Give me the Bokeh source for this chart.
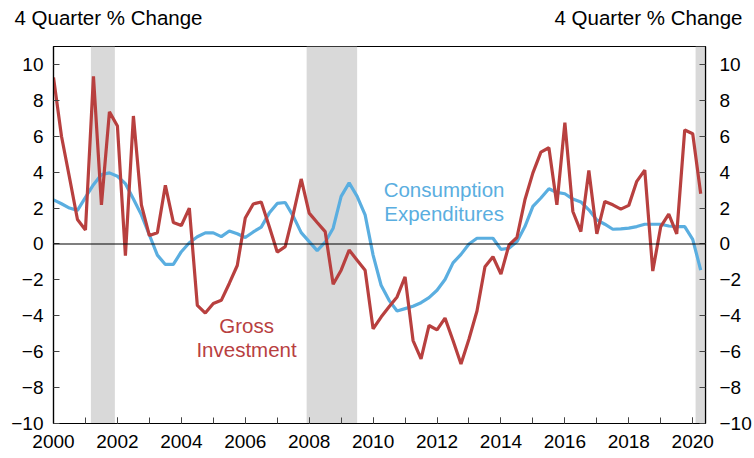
from bokeh.plotting import figure
from bokeh.layouts import column, row
from bokeh.models import Range1d, LinearAxis, FixedTicker, BoxAnnotation, Label, Span
from bokeh.core.properties import value
from bokeh.embed import file_html
from bokeh.resources import INLINE

# ---- data -----------------------------------------------------------------
start_year = 2000  # first quarter plotted at 2000.0, quarterly steps

consumption = [
    2.46, 2.24, 2.00, 1.87, 2.60,
    3.30, 3.87, 3.96, 3.77,
    3.36, 2.50, 1.62, 0.50,
    -0.62, -1.14, -1.14, -0.43,
    0.07, 0.40, 0.62, 0.62,
    0.41, 0.72, 0.57, 0.36,
    0.67, 0.94, 1.72, 2.26,
    2.31, 1.55, 0.63, 0.13,
    -0.37, 0.10, 0.88, 2.65,
    3.40, 2.65, 1.62, -0.62,
    -2.30, -3.14, -3.73, -3.60,
    -3.47, -3.27, -2.99, -2.58,
    -1.98, -1.05, -0.58, 0.00,
    0.32, 0.32, 0.32, -0.30,
    -0.24, 0.13, 0.97, 2.09,
    2.56, 3.08, 2.87, 2.80,
    2.50, 2.34, 1.90, 1.34,
    1.10, 0.82, 0.84, 0.88,
    0.97, 1.10, 1.10, 1.10,
    1.00, 0.97, 0.97, 0.26,
    -1.46,
]

investment = [
    9.28, 6.00, 3.70, 1.36, 0.78,
    9.34, 2.18, 7.36, 6.57,
    -0.65, 7.13, 2.18, 0.47,
    0.63, 3.27, 1.20, 1.03,
    2.00, -3.42, -3.85, -3.32,
    -3.14, -2.20, -1.20, 1.45,
    2.23, 2.34, 0.97, -0.45,
    -0.15, 1.65, 3.62, 1.72,
    1.20, 0.69, -2.24, -1.46,
    -0.34, -0.90, -1.46, -4.73,
    -4.07, -3.50, -2.95, -1.83,
    -5.38, -6.40, -4.54, -4.78,
    -4.13, -5.38, -6.69, -5.29,
    -3.73, -1.27, -0.71, -1.68,
    -0.06, 0.36, 2.46, 3.96,
    5.12, 5.36, 2.18, 6.76,
    1.81, 0.69, 4.09, 0.56,
    2.37, 2.18, 1.94, 2.15,
    3.49, 4.11, -1.51, 0.97,
    1.66, 0.56, 6.35, 6.14,
    2.80,
]

recession_start = [2001.17, 2007.92, 2020.09]
recession_end = [2001.92, 2009.50, 2020.40]

x_ticks = list(range(2000, 2021, 2))
x_minor = list(range(2000, 2021))
y_ticks = list(range(-10, 11, 2))
y_title = "4 Quarter % Change"

dates = [start_year + 0.25 * i for i in range(len(consumption))]

# ---- styling --------------------------------------------------------------
RED = "#B8403F"
BLUE = "#5AAEE0"
GRAY = "#D9D9D9"
FONT = "Liberation Sans"
TICK_SIZE = "19px"
LABEL_SIZE = "20.5px"
W = 754
HEAD_H = 34
MAIN_H = 424
FRAME_L = 53
FRAME_R = 708

# header strip holding the two axis titles (full-width frame, pixel coordinates)
head = figure(width=W, height=HEAD_H, x_range=Range1d(0, W), y_range=Range1d(0, HEAD_H),
              output_backend="svg", toolbar_location=None,
              x_axis_location=None, y_axis_location=None,
              min_border=0, min_border_left=0, min_border_right=0,
              min_border_top=0, min_border_bottom=0)
head.grid.visible = False
head.outline_line_color = None
head.text(x=[14], y=[HEAD_H - 17], text=[y_title], text_font=value(FONT),
          text_font_size=LABEL_SIZE, text_baseline="middle", text_align="left",
          text_color="black")
head.text(x=[742], y=[HEAD_H - 17], text=[y_title], text_font=value(FONT),
          text_font_size=LABEL_SIZE, text_baseline="middle", text_align="right",
          text_color="black")

p = figure(width=W, height=MAIN_H,
           x_range=Range1d(2000, 2020.4), y_range=Range1d(-10, 11.0),
           output_backend="svg", toolbar_location=None,
           min_border_left=FRAME_L, min_border_right=W - FRAME_R,
           min_border_top=12, min_border_bottom=35)
p.grid.visible = False
p.outline_line_color = "black"
p.outline_line_width = 1.2

for s, e in zip(recession_start, recession_end):
    p.add_layout(BoxAnnotation(left=s, right=e, fill_color=GRAY, fill_alpha=1.0,
                               line_color=None, level="underlay"))

p.add_layout(Span(location=0, dimension="width", line_color="black", line_width=1.2))

p.line(dates, consumption, line_color=BLUE, line_width=3.2)
p.line(dates, investment, line_color=RED, line_width=3.2)

# axes
xa = p.xaxis[0]
xa.ticker = FixedTicker(ticks=x_ticks, minor_ticks=x_minor)
ya = p.yaxis[0]
ya.ticker = FixedTicker(ticks=y_ticks)
ra = LinearAxis(ticker=FixedTicker(ticks=y_ticks))
p.add_layout(ra, "right")

for ax in (xa, ya, ra):
    ax.axis_line_color = "black"
    ax.axis_line_width = 1.2
    ax.major_tick_in = 6
    ax.major_tick_out = 0
    ax.minor_tick_in = 0
    ax.minor_tick_out = 0
    ax.major_tick_line_color = "#444444"
    ax.major_label_text_font = FONT
    ax.major_label_text_font_size = TICK_SIZE
    ax.major_label_text_color = "black"
xa.minor_tick_in = 6
xa.minor_tick_line_color = "#444444"
xa.major_label_standoff = 11
ya.major_label_standoff = 10
ra.major_label_standoff = 14

# series labels
for txt, yy in (("Consumption", 3.03), ("Expenditures", 1.68)):
    p.add_layout(Label(x=2012.22, y=yy, text=txt, text_font=FONT, text_color=BLUE,
                       text_font_size=LABEL_SIZE, text_baseline="middle", text_align="center"))
for txt, yy in (("Gross", -4.54), ("Investment", -5.88)):
    p.add_layout(Label(x=2006.04, y=yy, text=txt, text_font=FONT, text_color=RED,
                       text_font_size=LABEL_SIZE, text_baseline="middle", text_align="center"))

layout = column(row(head, spacing=0), p, spacing=0)
open("out.html", "w").write(file_html(layout, INLINE))
